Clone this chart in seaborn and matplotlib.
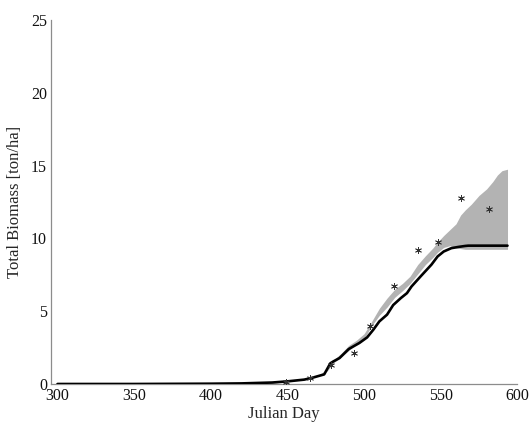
import matplotlib
matplotlib.use("Agg")
import matplotlib.pyplot as plt
import seaborn as sns
import pandas as pd
import numpy as np

# Simulated total biomass (mean trajectory)
day = [300, 350, 400, 420, 430, 440, 450, 461, 466, 474, 478, 480, 484, 490,
       497, 502, 506, 510, 515, 519, 524, 528, 531, 537, 544, 548, 552, 557,
       562, 566, 568, 580, 593.6]
biomass = [0.0, 0.0, 0.02, 0.04, 0.07, 0.1, 0.18, 0.3, 0.42, 0.66, 1.42, 1.55,
           1.78, 2.4, 2.82, 3.2, 3.72, 4.3, 4.76, 5.42, 5.9, 6.24, 6.7, 7.4,
           8.2, 8.76, 9.1, 9.33, 9.42, 9.48, 9.5, 9.5, 9.5]

# Ensemble spread of the simulation
band_day = [300, 440, 460, 470, 476, 480, 485, 490, 495, 500, 505, 510, 515,
            520, 525, 530, 535, 540, 545, 548, 552, 556, 560, 563, 566, 570,
            575, 580, 584, 587, 590, 593.6]
band_hi = [0.0, 0.12, 0.35, 0.6, 1.0, 1.65, 2.1, 2.65, 3.0, 3.45, 4.3, 5.2,
           5.9, 6.5, 6.9, 7.4, 8.2, 8.8, 9.35, 9.75, 10.2, 10.6, 11.0, 11.6,
           11.95, 12.35, 12.95, 13.4, 13.9, 14.35, 14.65, 14.75]
band_lo = [0.0, 0.05, 0.28, 0.55, 0.9, 1.45, 1.85, 2.3, 2.75, 3.1, 4.0, 4.72,
           5.28, 5.95, 6.4, 6.9, 7.55, 8.2, 8.7, 9.05, 9.38, 9.5, 9.35, 9.3,
           9.25, 9.25, 9.25, 9.25, 9.25, 9.25, 9.25, 9.25]

# Field measurements
obs_day = [449, 465, 478.5, 493.5, 504, 519.3, 535.4, 548.5, 563.5, 581.2]
obs_biomass = [0.15, 0.38, 1.3, 2.12, 4.0, 6.75, 9.18, 9.78, 12.8, 12.05]

x_ticks = [300, 350, 400, 450, 500, 550, 600]
y_ticks = [0, 5, 10, 15, 20, 25]

sns.set_style("white")
plt.rcParams["font.family"] = ["Liberation Serif", "DejaVu Serif"]

fig = plt.figure(figsize=(5.32, 4.25), dpi=100)
ax = fig.add_axes([0.096, 0.0965, 0.8764, 0.8565])

ax.fill_between(band_day, band_lo, band_hi, color="#b3b3b3", linewidth=0,
                zorder=1)

sim = pd.DataFrame({"day": day, "biomass": biomass})
sns.lineplot(data=sim, x="day", y="biomass", color="black", linewidth=1.9,
             ax=ax, zorder=3)

obs = pd.DataFrame({"day": obs_day, "biomass": obs_biomass})
sns.scatterplot(data=obs, x="day", y="biomass", marker=(6, 2, 0), s=20,
                color="#333333", edgecolor="#333333", linewidth=0.6, ax=ax,
                zorder=4)

ax.set_xlim(295.8, 600)
ax.set_ylim(0, 25)
ax.set_xticks(x_ticks)
ax.set_yticks(y_ticks)
ax.set_xlabel("Julian Day", fontsize=12, labelpad=1)
ax.set_ylabel("Total Biomass [ton/ha]", fontsize=12, labelpad=6)

for side in ("top", "right"):
    ax.spines[side].set_visible(False)
for side in ("left", "bottom"):
    ax.spines[side].set_color("#8c8c8c")
    ax.spines[side].set_linewidth(0.9)
ax.tick_params(direction="in", length=4, width=0.8, color="#8c8c8c",
               labelsize=11.5, labelcolor="#111111", pad=3)

fig.savefig("out.png", dpi=100, facecolor="white")
